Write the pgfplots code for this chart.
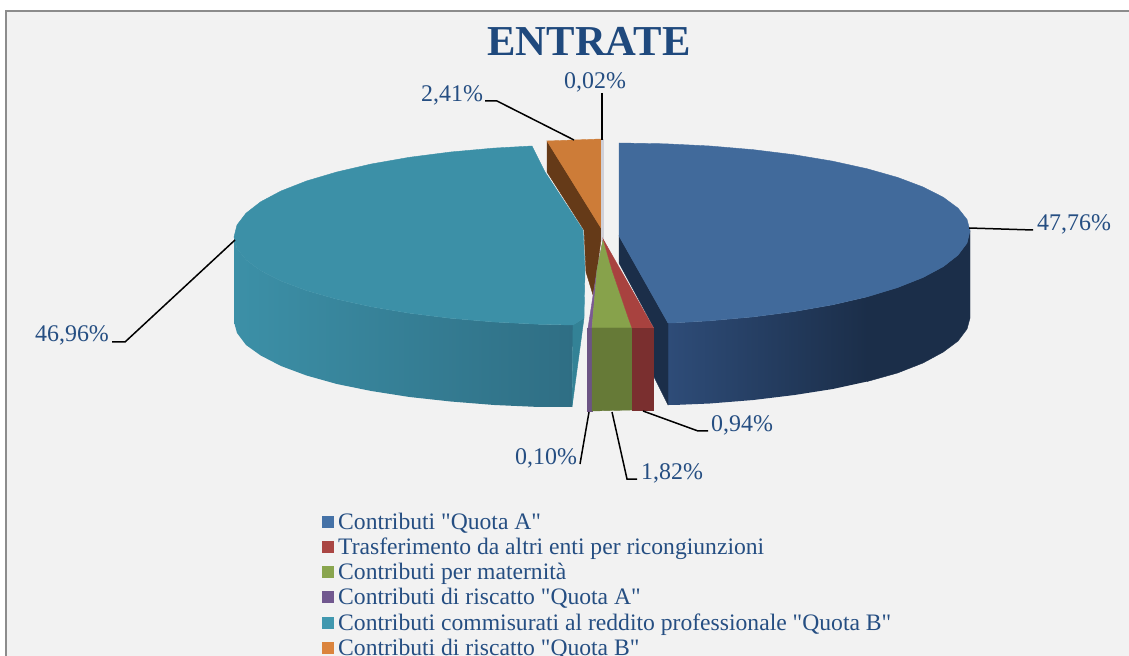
\documentclass[border=0pt]{standalone}
\usepackage{pgfplots}
\pgfplotsset{compat=1.18}
\usepackage{fontspec}
\setmainfont{Liberation Serif}
\newfontfamily\plainquotes{Liberation Serif}

\definecolor{txt}{HTML}{254E82}
\definecolor{ttl}{HTML}{1F497D}
\definecolor{bg}{HTML}{F2F2F2}
\definecolor{frame}{HTML}{8C8C8C}
% pie faces
\definecolor{bluetop}{RGB}{65,106,155}
\definecolor{blueside}{RGB}{46,76,120}
\definecolor{bluedark}{RGB}{27,46,73}
\definecolor{tealtop}{RGB}{60,144,167}
\definecolor{tealside}{RGB}{47,110,132}
\definecolor{tealin}{RGB}{51,130,150}
\definecolor{orangetop}{RGB}{205,124,56}
\definecolor{orangedark}{RGB}{101,58,24}
\definecolor{sliver}{RGB}{208,208,216}
\definecolor{purpletop}{RGB}{123,90,147}
\definecolor{purpleside}{RGB}{108,84,132}
\definecolor{greentop}{RGB}{135,162,75}
\definecolor{greenside}{RGB}{102,122,55}
\definecolor{redtop}{RGB}{168,66,63}
\definecolor{redside}{RGB}{122,47,47}
% legend squares
\definecolor{lblue}{RGB}{69,114,167}
\definecolor{lred}{RGB}{170,70,67}
\definecolor{lgreen}{RGB}{137,165,78}
\definecolor{lpurple}{RGB}{113,88,143}
\definecolor{lteal}{RGB}{65,152,175}
\definecolor{lorange}{RGB}{219,132,61}

\pgfplotsset{
  face/.style={draw=#1, line width=0.4bp, forget plot, fill=#1},
  leader/.style={black, line width=1.5bp, forget plot},
  sq/.style={legend image code/.code={\fill[##1, draw=none] (0bp,-4bp) rectangle (12bp,8bp);}},
}

\begin{document}
\begin{tikzpicture}[x=1bp,y=1bp]
\begin{axis}[
  at={(0bp,0bp)}, anchor=south west,
  scale only axis, width=1129bp, height=656bp,
  xmin=0, xmax=1129, ymin=0, ymax=656, y dir=reverse,
  hide axis, clip=false,
  legend style={at={(axis cs:322,512)}, anchor=north west, draw=none, fill=none,
    font=\plainquotes\fontsize{23.7}{23.7}\selectfont, text=txt, inner sep=0pt, row sep=2.2bp, column sep=4bp,
    nodes={inner sep=0pt, text height=17bp, text depth=6bp}},
  legend cell align=left,
]
% frame
\addplot[face=bg] coordinates {(6,656) (6,11) (1129,11) (1129,656)} -- cycle;
\addplot[forget plot, draw=frame, line width=2bp] coordinates {(6,656) (6,11) (1129,11)};

% blue side, inner wall and top
\addplot[draw=none, forget plot, shading=axis, left color=blueside, right color=bluedark]
 coordinates {(867.2,296.8) (832.7,304.8) (794.5,311.5) (753.3,316.9) (709.8,320.8) (674,322.9) (668,323)
              (668,405) (674,405) (709.8,403.5) (753.3,400) (794.5,395) (832.7,389) (867.2,381.5)} -- cycle;
\addplot[face=bluedark]
 coordinates {(970,231) (967,243.1) (958,255.1) (943.3,266.6) (923,277.5) (897.5,287.6) (867.2,296.8)
              (867.2,381.5) (897.5,373) (923,363) (943.3,352) (958,341) (967,329) (970,318)} -- cycle;
\addplot[face=bluedark]
 coordinates {(619,236) (668,323) (668,405) (654,377) (654,328) (619,263)} -- cycle;
\addplot[face=bluetop]
 coordinates {(619,143) (664.8,143.8) (709.8,146) (753.3,149.7) (794.5,154.8) (832.7,161.2) (867.2,168.8)
              (897.5,177.4) (923,187) (943.3,197.3) (958,208.2) (967,219.5) (970,231)
              (967,243.1) (958,255.1) (943.3,266.6) (923,277.5) (897.5,287.6) (867.2,296.8)
              (832.7,304.8) (794.5,311.5) (753.3,316.9) (709.8,320.8) (674,322.9) (668,323) (619,236)} -- cycle;

% teal side and top
\addplot[draw=none, forget plot, shading=axis, left color=tealtop, right color=tealside]
 coordinates {(234,237) (237,248.5) (246,259.8) (260.7,270.7) (281,281) (306.5,290.6) (336.8,299.2) (371.3,306.8)
              (409.5,313.2) (450.7,318.3) (494.2,322) (539.2,324.3) (573,325)
              (572,407) (539.2,407) (494.2,405) (450.7,401.5) (409.5,397) (371.3,391) (336.8,384) (306.5,375.5)
              (281,366) (260.7,355.5) (246,345) (237,333) (234,322)} -- cycle;
\addplot[face=tealin]
 coordinates {(573,325) (584,318) (572,407)} -- cycle;
\addplot[face=tealtop]
 coordinates {(532,146) (494.2,148.1) (450.7,152) (409.5,157.3) (371.3,164) (336.8,172) (306.5,181) (281,191)
              (260.7,201.8) (246,213.2) (237,225) (234,237) (237,248.5) (246,259.8) (260.7,270.7) (281,281)
              (306.5,290.6) (336.8,299.2) (371.3,306.8) (409.5,313.2) (450.7,318.3) (494.2,322) (539.2,324.3) (573,325)
              (584,318) (585,270) (583,230) (545,172)} -- cycle;

% orange
\addplot[face=orangedark]
 coordinates {(547,141) (601,228) (601,240) (597,270) (593,295) (586,272) (584,230) (547,172)} -- cycle;
\addplot[face=orangetop]
 coordinates {(547,141) (601,139) (601,228)} -- cycle;
% 0,02% sliver
\addplot[face=sliver]
 coordinates {(601,139) (603,139) (603,240) (601,240)} -- cycle;

% purple
\addplot[face=purpletop]
 coordinates {(603,240) (597,270) (592,328) (588,328) (597,270)} -- cycle;
\addplot[face=purpleside]
 coordinates {(587,328) (592,328) (592,411) (587,411)} -- cycle;
% green
\addplot[face=greentop]
 coordinates {(603,240) (612,270) (628,317) (632,328) (592,328) (597,270)} -- cycle;
\addplot[face=greenside]
 coordinates {(592,328) (632,328) (632,410) (592,411)} -- cycle;
% red
\addplot[face=redtop]
 coordinates {(603,239) (653.5,328) (632,328) (628,317) (612,270)} -- cycle;
\addplot[face=redside]
 coordinates {(632,328) (653.5,328) (653.5,410) (632,410)} -- cycle;

% leader lines
\addplot[leader] coordinates {(602,93) (602,140)};
\addplot[leader] coordinates {(485,101) (497,101) (574,140)};
\addplot[leader] coordinates {(969,228) (1033,230)};
\addplot[leader] coordinates {(112,342) (125,342) (235,240)};
\addplot[leader] coordinates {(643,411) (698,431) (708,431)};
\addplot[leader] coordinates {(612,412) (627,479) (637,479)};
\addplot[leader] coordinates {(589,412) (580,464)};

% legend
\addlegendimage{sq, fill=lblue}
\addlegendentry{Contributi "Quota A"}
\addlegendimage{sq, fill=lred}
\addlegendentry{Trasferimento da altri enti per ricongiunzioni}
\addlegendimage{sq, fill=lgreen}
\addlegendentry{Contributi per maternità}
\addlegendimage{sq, fill=lpurple}
\addlegendentry{Contributi di riscatto "Quota A"}
\addlegendimage{sq, fill=lteal}
\addlegendentry{Contributi commisurati al reddito professionale "Quota B"}
\addlegendimage{sq, fill=lorange}
\addlegendentry{Contributi di riscatto "Quota B"}

% text
\node[anchor=base, font=\bfseries\fontsize{42.8}{42.8}\selectfont, text=ttl] at (axis cs:589,55.5) {ENTRATE};
\tikzset{lab/.style={anchor=base west, inner sep=0pt, text=txt, font=\fontsize{24}{24}\selectfont}}
\node[lab] at (axis cs:1037,231) {47,76\%};
\node[lab] at (axis cs:35,342) {46,96\%};
\node[lab] at (axis cs:421,102) {2,41\%};
\node[lab] at (axis cs:564,89) {0,02\%};
\node[lab] at (axis cs:711,432) {0,94\%};
\node[lab] at (axis cs:641,479) {1,82\%};
\node[lab] at (axis cs:515,464) {0,10\%};
\end{axis}
\pgfresetboundingbox
\useasboundingbox (0,0) rectangle (1129,656);
\end{tikzpicture}
\end{document}
